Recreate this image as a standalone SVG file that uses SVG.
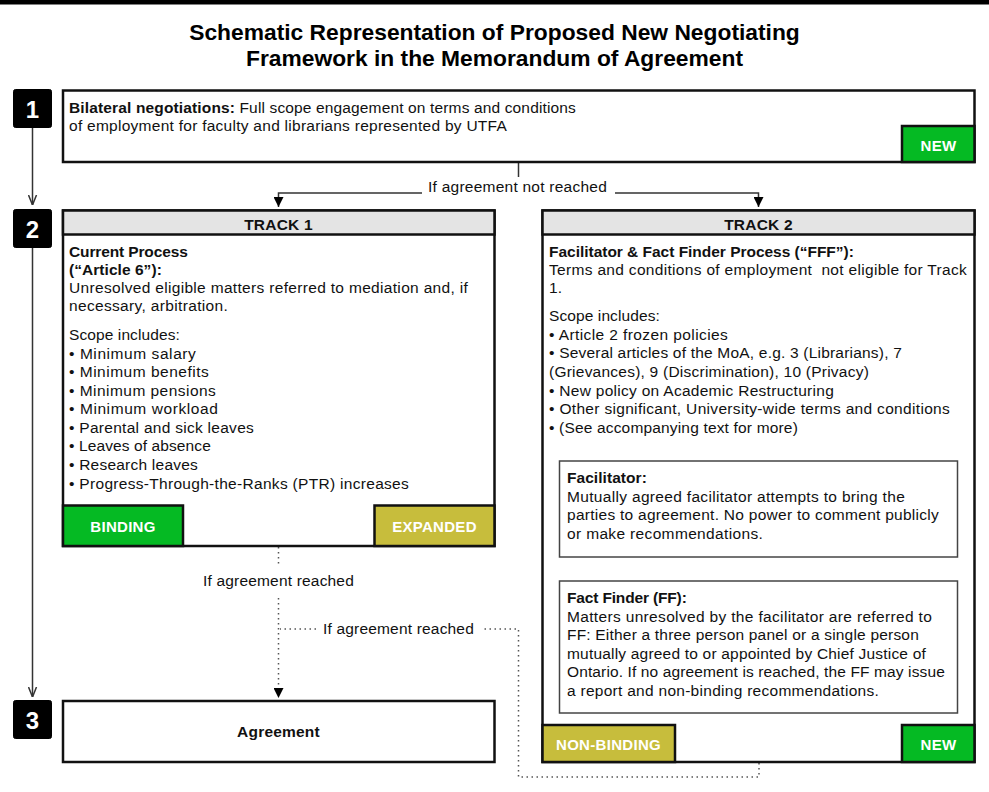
<svg xmlns="http://www.w3.org/2000/svg" width="989" height="792" viewBox="0 0 989 792">
<defs>
<style>
.t{font-family:"Liberation Sans",Arial,sans-serif;font-size:15.5px;fill:#111;letter-spacing:0.2px}
.b{font-weight:bold}
.ttl{font-family:"Liberation Sans",Arial,sans-serif;font-size:22.8px;font-weight:bold;fill:#000;text-anchor:middle}
.num{font-family:"Liberation Sans",Arial,sans-serif;font-size:24px;font-weight:bold;fill:#fff;text-anchor:middle}
.badge{font-family:"Liberation Sans",Arial,sans-serif;font-size:15px;font-weight:bold;fill:#fff;text-anchor:middle;letter-spacing:0.3px}
.box{fill:#fff;stroke:#111;stroke-width:2.5}
.inner{fill:#fff;stroke:#444;stroke-width:1.5}
.hdr{fill:#e4e4e4;stroke:#111;stroke-width:2.5}
.green{fill:#05ba23;stroke:#111;stroke-width:2.5}
.olive{fill:#c7bd3c;stroke:#111;stroke-width:2.5}
.nb{fill:#000;stroke:#000;stroke-width:1;}
.solid{fill:none;stroke:#333;stroke-width:1.5}
.dot{fill:none;stroke:#555;stroke-width:1.5;stroke-dasharray:1.5 3.5}
.c{text-anchor:middle}
.pre{white-space:pre}
</style>
<marker id="tri" viewBox="0 0 10 10" refX="10" refY="5" markerWidth="10" markerHeight="10" markerUnits="userSpaceOnUse" orient="auto">
<path d="M0,0 L10,5 L0,10 z" fill="#000"/>
</marker>
<marker id="open" viewBox="0 0 10 10" refX="10" refY="5" markerWidth="10" markerHeight="10" markerUnits="userSpaceOnUse" orient="auto">
<path d="M0,1 L10,5 L0,9" fill="none" stroke="#333" stroke-width="1.5"/>
</marker>
</defs>
<rect x="0" y="0" width="989" height="4.5" fill="#000"/>
<g id="title">
<text class="ttl" x="494.5" y="40">Schematic Representation of Proposed New Negotiating</text>
<text class="ttl" x="494.5" y="66">Framework in the Memorandum of Agreement</text>
</g>
<g id="connectors">
<line class="solid" x1="32.5" y1="128" x2="32.5" y2="205" marker-end="url(#open)"/>
<line class="solid" x1="32.5" y1="248" x2="32.5" y2="697" marker-end="url(#open)"/>
<path class="solid" d="M518.5,162 V177"/>
<path class="solid" d="M422,193 H278.5 V207" marker-end="url(#tri)"/>
<path class="solid" d="M615,193 H758.5 V207" marker-end="url(#tri)"/>
<path class="solid" d="M759,557 V579" marker-end="url(#tri)"/>
<path class="dot" d="M278.5,547 V566"/>
<path class="dot" d="M278.5,598 V698" marker-end="url(#tri)"/>
<path class="dot" d="M759,763 V777 H518.5 V629 H482"/>
<path class="dot" d="M316,629 H280"/>
<text class="t" x="428" y="192" textLength="179" lengthAdjust="spacing">If agreement not reached</text>
<text class="t" x="203" y="586" textLength="151" lengthAdjust="spacing">If agreement reached</text>
<text class="t" x="323" y="634" textLength="151" lengthAdjust="spacing">If agreement reached</text>
</g>
<g id="n1">
<rect class="nb" x="13.5" y="89.5" width="38" height="38" rx="2"/>
<text class="num" x="32.5" y="118">1</text>
</g>
<g id="n2">
<rect class="nb" x="13.5" y="209.5" width="38" height="38" rx="2"/>
<text class="num" x="32.5" y="238">2</text>
</g>
<g id="n3">
<rect class="nb" x="13.5" y="700.5" width="38" height="38" rx="2"/>
<text class="num" x="32.5" y="729">3</text>
</g>
<g id="bilateral">
<rect class="box" x="63" y="90.5" width="911.5" height="71.5"/>
<text class="t" x="69" y="113" textLength="507" lengthAdjust="spacing"><tspan class="b">Bilateral negotiations:</tspan> Full scope engagement on terms and conditions</text>
<text class="t" x="69" y="131" textLength="438" lengthAdjust="spacing">of employment for faculty and librarians represented by UTFA</text>
<rect class="green" x="902" y="126" width="72.5" height="36"/>
<text class="badge" x="938.5" y="151">NEW</text>
</g>
<g id="track1">
<rect class="box" x="63" y="210.5" width="431.5" height="335.5"/>
<rect class="hdr" x="63" y="210.5" width="431.5" height="24"/>
<text class="t b c" x="278.5" y="229.5">TRACK 1</text>
<text class="t b" x="69" y="257" textLength="119" lengthAdjust="spacing">Current Process</text>
<text class="t b" x="69" y="275" textLength="93" lengthAdjust="spacing">(“Article 6”):</text>
<text class="t" x="69" y="293" textLength="399" lengthAdjust="spacing">Unresolved eligible matters referred to mediation and, if</text>
<text class="t" x="69" y="311" textLength="159" lengthAdjust="spacing">necessary, arbitration.</text>
<text class="t" x="69" y="340" textLength="111" lengthAdjust="spacing">Scope includes:</text>
<text class="t" x="69" y="358.5" textLength="127" lengthAdjust="spacing">• Minimum salary</text>
<text class="t" x="69" y="377" textLength="140" lengthAdjust="spacing">• Minimum benefits</text>
<text class="t" x="69" y="395.5" textLength="147" lengthAdjust="spacing">• Minimum pensions</text>
<text class="t" x="69" y="414" textLength="149" lengthAdjust="spacing">• Minimum workload</text>
<text class="t" x="69" y="432.5" textLength="185" lengthAdjust="spacing">• Parental and sick leaves</text>
<text class="t" x="69" y="451" textLength="142" lengthAdjust="spacing">• Leaves of absence</text>
<text class="t" x="69" y="470" textLength="129" lengthAdjust="spacing">• Research leaves</text>
<text class="t" x="69" y="488.5" textLength="340" lengthAdjust="spacing">• Progress-Through-the-Ranks (PTR) increases</text>
<rect class="green" x="63" y="505.5" width="120" height="40.5"/>
<text class="badge" x="123" y="532">BINDING</text>
<rect class="olive" x="374.5" y="505.5" width="120" height="40.5"/>
<text class="badge" x="434.5" y="532">EXPANDED</text>
</g>
<g id="track2">
<rect class="box" x="542.5" y="210.5" width="432" height="551.5"/>
<rect class="hdr" x="542.5" y="210.5" width="432" height="24"/>
<text class="t b c" x="758.5" y="229.5">TRACK 2</text>
<text class="t b" x="549" y="257" textLength="305" lengthAdjust="spacing">Facilitator &amp; Fact Finder Process (“FFF”):</text>
<text class="t pre" x="549" y="275" textLength="418" lengthAdjust="spacing">Terms and conditions of employment  not eligible for Track</text>
<text class="t" x="549" y="293">1.</text>
<text class="t" x="549" y="321" textLength="111" lengthAdjust="spacing">Scope includes:</text>
<text class="t" x="549" y="339.5" textLength="179" lengthAdjust="spacing">• Article 2 frozen policies</text>
<text class="t" x="549" y="358" textLength="353" lengthAdjust="spacing">• Several articles of the MoA, e.g. 3 (Librarians), 7</text>
<text class="t" x="549" y="377" textLength="320" lengthAdjust="spacing">(Grievances), 9 (Discrimination), 10 (Privacy)</text>
<text class="t" x="549" y="395.5" textLength="285" lengthAdjust="spacing">• New policy on Academic Restructuring</text>
<text class="t" x="549" y="414" textLength="401" lengthAdjust="spacing">• Other significant, University-wide terms and conditions</text>
<text class="t" x="549" y="432.5" textLength="249" lengthAdjust="spacing">• (See accompanying text for more)</text>
<rect class="olive" x="542.5" y="725" width="132.5" height="37"/>
<text class="badge" x="608.5" y="749.5">NON-BINDING</text>
<rect class="green" x="902" y="725" width="72.5" height="37"/>
<text class="badge" x="938.5" y="749.5">NEW</text>
</g>
<g id="facilitator">
<rect class="inner" x="559.5" y="461" width="398" height="96"/>
<text class="t b" x="567" y="483" textLength="80" lengthAdjust="spacing">Facilitator:</text>
<text class="t" x="567" y="501.5" textLength="338" lengthAdjust="spacing">Mutually agreed facilitator attempts to bring the</text>
<text class="t" x="567" y="520" textLength="372" lengthAdjust="spacing">parties to agreement. No power to comment publicly</text>
<text class="t" x="567" y="538.5" textLength="196" lengthAdjust="spacing">or make recommendations.</text>
</g>
<g id="factfinder">
<rect class="inner" x="559.5" y="581" width="398" height="132"/>
<text class="t b" x="567" y="603" textLength="120" lengthAdjust="spacing">Fact Finder (FF):</text>
<text class="t" x="567" y="621.5" textLength="365" lengthAdjust="spacing">Matters unresolved by the facilitator are referred to</text>
<text class="t" x="567" y="640" textLength="352" lengthAdjust="spacing">FF: Either a three person panel or a single person</text>
<text class="t" x="567" y="658.5" textLength="359" lengthAdjust="spacing">mutually agreed to or appointed by Chief Justice of</text>
<text class="t" x="567" y="677" textLength="378" lengthAdjust="spacing">Ontario. If no agreement is reached, the FF may issue</text>
<text class="t" x="567" y="695.5" textLength="312" lengthAdjust="spacing">a report and non-binding recommendations.</text>
</g>
<g id="agreement">
<rect class="box" x="63" y="701" width="431.5" height="61"/>
<text class="t b c" x="278.5" y="737">Agreement</text>
</g>
</svg>
